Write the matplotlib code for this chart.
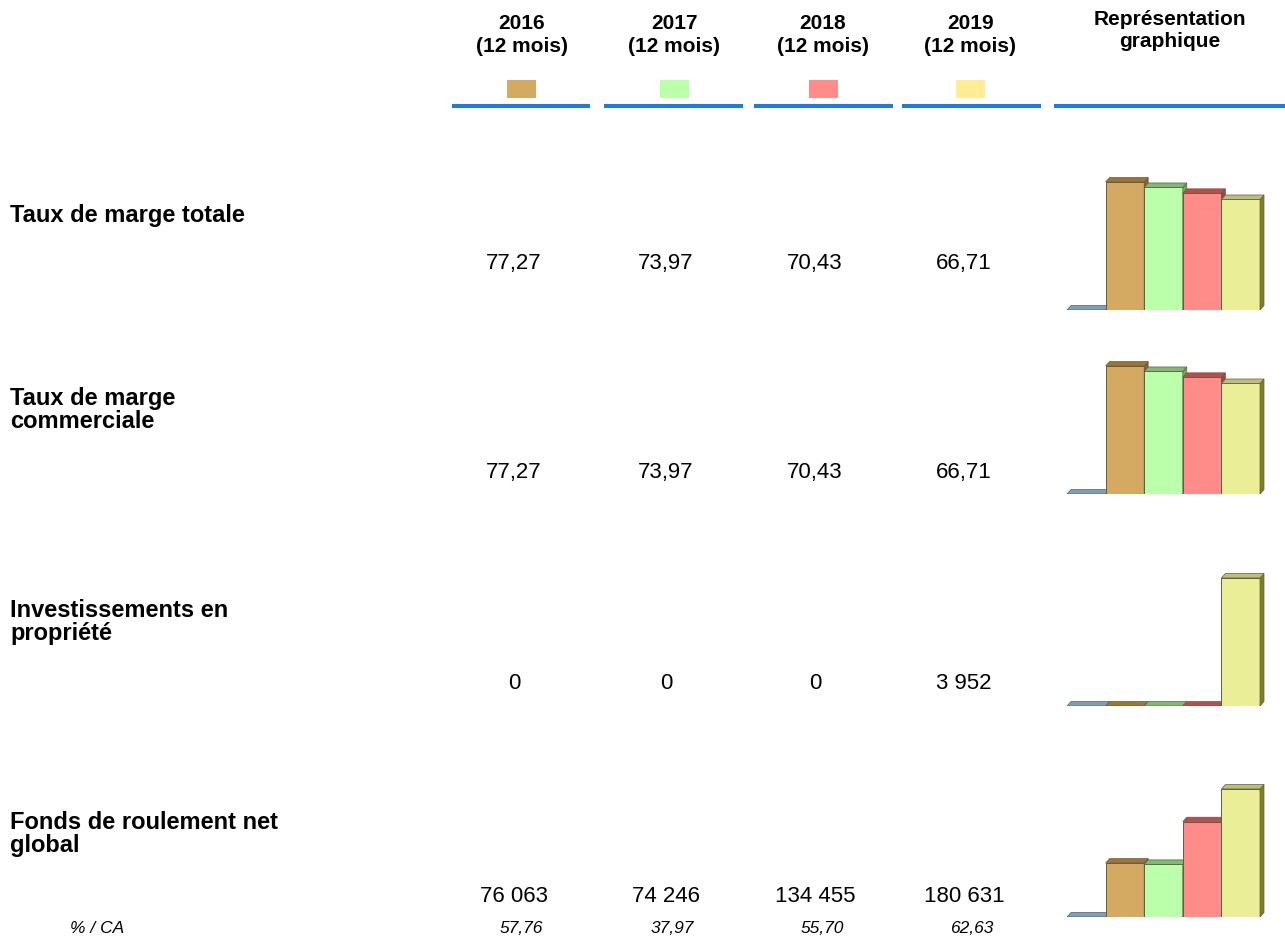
import matplotlib.pyplot as plt
from matplotlib.patches import Polygon

plt.rcParams['font.family'] = ['Liberation Sans', 'DejaVu Sans']

W, H = 1285, 941

# ---- data ----
years = ['2016', '2017', '2018', '2019']
period = '(12 mois)'
indicators = ['Taux de marge totale',
              'Taux de marge\ncommerciale',
              'Investissements en\npropriété',
              'Fonds de roulement net\nglobal']
marge_totale = [77.27, 73.97, 70.43, 66.71]
marge_commerciale = [77.27, 73.97, 70.43, 66.71]
investissements = [0, 0, 0, 3952]
frng = [76063, 74246, 134455, 180631]
frng_pct_ca = [57.76, 37.97, 55.70, 62.63]
decimals = [2, 2, 0, 0]

rows = [marge_totale, marge_commerciale, investissements, frng]

# colours: front, top, side
year_colors = ['#D4A962', '#BBFFAA', '#FF8C88', '#EAEE96']
legend_colors = ['#D4A962', '#BBFFAA', '#FF8C88', '#FFEC94']
top_colors = ['#A07430', '#7DBB6E', '#C04A4A', '#BDBF72']
side_colors = ['#8A6428', '#6FA862', '#A83E3E', '#7F7F22']
blue_flat = '#7D9EC0'

# ---- layout (pixels) ----
col_hdr = [521.5, 674, 823, 970.5]
col_val = [514, 666, 815, 964]
col_pct = [521, 672, 822, 972]
seg = [(452, 590), (604, 743), (754, 893), (902, 1041), (1054, 1285)]
label_base = [222, 405, 617, 829]
line_gap = 23
value_base = [269, 478, 689, 902]
chart_base = [310, 494, 706, 917]


def fr(v, nd):
    s = f'{v:,.{nd}f}'
    return s.replace(',', ' ').replace('.', ',')


fig = plt.figure(figsize=(W / 100, H / 100), dpi=100)
bg = fig.add_axes([0, 0, 1, 1])
bg.set_xlim(0, W)
bg.set_ylim(H, 0)
bg.axis('off')

# header
for i, y in enumerate(years):
    bg.text(col_hdr[i], 29, y, ha='center', va='baseline', fontsize=15, fontweight='bold')
    bg.text(col_hdr[i], 52, period, ha='center', va='baseline', fontsize=15, fontweight='bold')
    bg.add_patch(plt.Rectangle((col_hdr[i] - 14.5, 80), 29, 18, color=legend_colors[i], lw=0))
bg.text(1169.5, 25, 'Représentation', ha='center', va='baseline', fontsize=15, fontweight='bold')
bg.text(1169.5, 47, 'graphique', ha='center', va='baseline', fontsize=15, fontweight='bold')
for x0, x1 in seg:
    bg.plot([x0, x1], [106, 106], color='#1C7CE6', lw=2.9, solid_capstyle='butt')

# rows
for r, vals in enumerate(rows):
    for k, line in enumerate(indicators[r].split('\n')):
        bg.text(10, label_base[r] + k * line_gap, line, ha='left', va='baseline',
                fontsize=17, fontweight='bold')
    for i, v in enumerate(vals):
        bg.text(col_val[i], value_base[r], fr(v, decimals[r]), ha='center', va='baseline', fontsize=16)

bg.text(97, 933, '% / CA', ha='center', va='baseline', fontsize=12.5, style='italic')
for i, p in enumerate(frng_pct_ca):
    bg.text(col_pct[i], 933, fr(p, 2), ha='center', va='baseline', fontsize=12.5, style='italic')

# mini 3D-like bar charts
bw = 38.6
ax_w, ax_h, bar_h = 200, 140, 128
ddx, ddy = 4, 4.5
for r, vals in enumerate(rows):
    vmax = max(vals)
    ax = fig.add_axes([1067 / W, (H - chart_base[r]) / H, ax_w / W, ax_h / H])
    ax.set_xlim(0, ax_w / bw)
    ax.set_ylim(0, vmax * ax_h / bar_h)
    ax.axis('off')
    dx = ddx / bw
    dy = ddy / bar_h * vmax
    series = [0] + list(vals)
    fronts = [blue_flat] + year_colors
    tops = [blue_flat] + top_colors
    sides = [blue_flat] + side_colors
    for i, h in enumerate(series):
        x0, x1 = i, i + 1
        if h > 0:
            ax.bar(i + 0.5, h, width=1, color=fronts[i], edgecolor='#5E5E4A', lw=0.7, zorder=2 + i)
            ax.add_patch(Polygon([(x1, 0), (x1 + dx, dy), (x1 + dx, h + dy), (x1, h)],
                                 closed=True, fc=sides[i], ec='#5E5E4A', lw=0.5, zorder=2 + i))
        ax.add_patch(Polygon([(x0, h), (x0 + dx, h + dy), (x1 + dx, h + dy), (x1, h)],
                             closed=True, fc=tops[i], ec='#5E5E4A', lw=0.5, zorder=2 + i))

fig.savefig('out.png', dpi=100)
